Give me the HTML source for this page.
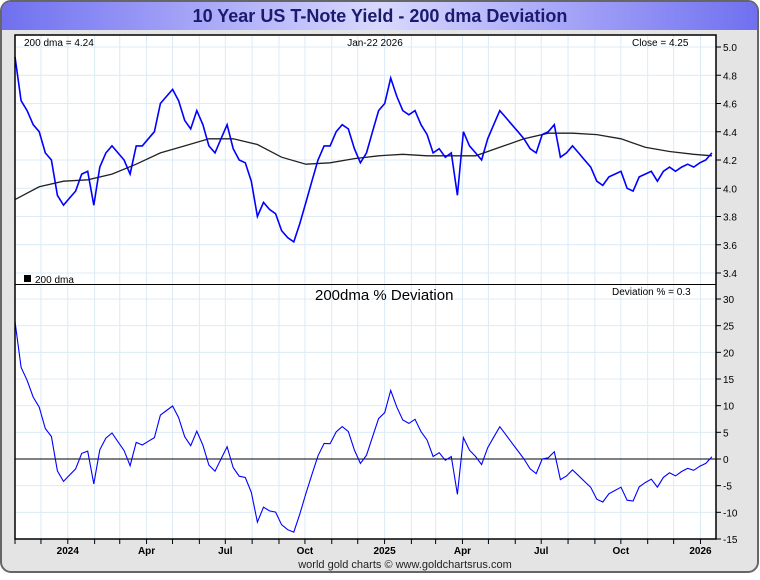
<!DOCTYPE html>
<html><head><meta charset="utf-8"><style>
body{margin:0;width:760px;height:575px;overflow:hidden;background:#fff;font-family:"Liberation Sans",sans-serif}
</style></head><body>
<svg id="c" width="760" height="575" xmlns="http://www.w3.org/2000/svg">
<defs><linearGradient id="tg" x1="0" x2="1"><stop offset="0" stop-color="#7070f0"/><stop offset="0.5" stop-color="#d8d8ff"/><stop offset="1" stop-color="#7070f0"/></linearGradient></defs>
<rect x="1" y="1" width="757" height="571" rx="10" fill="#e4e4e4" stroke="#666" stroke-width="2"/>
<path d="M2,30 L2,11 Q2,2 11,2 L748,2 Q757,2 757,11 L757,30 Z" fill="url(#tg)"/>
<text x="380" y="22" text-anchor="middle" font-size="18" font-weight="bold" fill="#1a1a6e">10 Year US T-Note Yield - 200 dma Deviation</text>
<rect x="15" y="35" width="701" height="504" fill="#fff"/>
<g id="grid"></g>
<g id="marks"></g>
<rect x="15" y="35" width="701" height="504" fill="none" stroke="#000" stroke-width="1.5"/>
<line x1="15" y1="284.5" x2="716" y2="284.5" stroke="#000"/>
<text x="24" y="46" font-size="10">200 dma =   4.24</text>
<text x="375" y="46" font-size="10" text-anchor="middle">Jan-22  2026</text>
<text x="632" y="46" font-size="10">Close = 4.25</text>
<rect x="24" y="275" width="7" height="7" fill="#000"/>
<text x="35" y="283" font-size="10">200 dma</text>
<text x="315" y="300" font-size="15">200dma  %  Deviation</text>
<text x="612" y="295" font-size="10">Deviation % = 0.3</text>
<text x="405" y="568" font-size="11" text-anchor="middle" fill="#222">world gold charts © www.goldchartsrus.com</text>
<g id="axes"></g>
</svg>
<script>
const yieldVals=[4.93,4.62,4.55,4.45,4.40,4.25,4.20,3.95,3.88,3.93,3.98,4.10,4.12,3.88,4.15,4.25,4.30,4.25,4.20,4.10,4.30,4.30,4.35,4.40,4.60,4.65,4.70,4.62,4.48,4.42,4.55,4.45,4.30,4.25,4.35,4.45,4.28,4.20,4.18,4.05,3.80,3.90,3.85,3.82,3.70,3.65,3.62,3.75,3.90,4.05,4.20,4.30,4.30,4.40,4.45,4.42,4.28,4.18,4.25,4.40,4.55,4.60,4.78,4.65,4.55,4.52,4.55,4.45,4.38,4.25,4.28,4.22,4.25,3.95,4.40,4.30,4.25,4.20,4.35,4.45,4.55,4.50,4.45,4.40,4.35,4.28,4.25,4.38,4.40,4.45,4.22,4.25,4.30,4.25,4.20,4.15,4.05,4.02,4.08,4.10,4.12,4.00,3.98,4.08,4.10,4.12,4.05,4.12,4.15,4.12,4.15,4.17,4.15,4.18,4.20,4.25];
const dmaVals=[3.92,4.01,4.05,4.06,4.10,4.17,4.25,4.30,4.35,4.35,4.31,4.22,4.17,4.18,4.21,4.23,4.24,4.23,4.23,4.23,4.29,4.35,4.39,4.39,4.38,4.35,4.29,4.26,4.24,4.23];
const dmaStep=4;
const topTicks=["5.0","4.8","4.6","4.4","4.2","4.0","3.8","3.6","3.4"];
const botTicks=[30,25,20,15,10,5,0,-5,-10,-15];
const monthLabels=["","Dec","2024","Feb","Mar","Apr","May","Jun","Jul","Aug","Sep","Oct","Nov","Dec","2025","Feb","Mar","Apr","May","Jun","Jul","Aug","Sep","Oct","Nov","Dec","2026"];
const shownLabels=["2024","Apr","Jul","Oct","2025","Apr","Jul","Oct","2026"];
const NS="http://www.w3.org/2000/svg";
const X0=15,X1=716;
function xw(i){return X0+i*6.06;}
function yt(v){return 47+(5.0-v)*141.25;}
function yb(v){return 299+(30-v)*5.333;}
function xDay(d){return X0+d*0.8655;}
function mk(t,a,p){const e=document.createElementNS(NS,t);for(const k in a)e.setAttribute(k,a[k]);(p||document.getElementById('marks')).appendChild(e);return e;}
const grid=document.getElementById('grid'),axes=document.getElementById('axes');
// month boundaries (days from Nov 1 2023)
const monthStarts=[];{let d=new Date(2023,10,1);const s=d.getTime();for(let k=0;k<27;k++){monthStarts.push(Math.round((new Date(2023,10+k,1).getTime()-s)/86400000));}}
monthStarts.forEach((d,k)=>{const x=xDay(d);if(x<=X0+1||x>=X1)return;
 const g=mk('line',{x1:x,y1:35,x2:x,y2:539,stroke:'#dcebf7','stroke-width':1},grid);
 
 const t=mk('line',{x1:x,y1:539,x2:x,y2:544,stroke:'#000'},axes);
 const lab=monthLabels[k];
 if(shownLabels.includes(lab)&&(lab.length===4?true:true)){
  const tx=mk('text',{x:x,y:554,'font-size':10,'font-weight':'bold','text-anchor':'middle'},axes);tx.textContent=lab;
  }
});
mk('line',{x1:X0,y1:539,x2:X0,y2:544,stroke:'#000'},axes);
topTicks.forEach(s=>{const y=yt(parseFloat(s));
 const g=mk('line',{x1:X0,y1:y,x2:X1,y2:y,stroke:'#dcebf7'},grid);
 mk('line',{x1:X1,y1:y,x2:X1+5,y2:y,stroke:'#000'},axes);
 const t=mk('text',{x:723,y:y+4,'font-size':10},axes);t.textContent=s;
 });
botTicks.forEach(v=>{const y=yb(v);
 const g=mk('line',{x1:X0,y1:y,x2:X1,y2:y,stroke:v===0?'#000':'#dcebf7'},v===0?document.getElementById('marks'):grid);
 
 mk('line',{x1:X1,y1:y,x2:X1+5,y2:y,stroke:'#000'},axes);
 const t=mk('text',{x:723,y:y+4,'font-size':10},axes);t.textContent=String(v);
 });
function dmaAt(i){const f=i/dmaStep,k=Math.min(Math.floor(f),dmaVals.length-2),r=f-k;return dmaVals[k]*(1-r)+dmaVals[k+1]*r;}
// dma line
let pd=dmaVals.map((v,k)=>{const x=Math.min(xw(k*dmaStep),X1-4);return (k?'L':'M')+x.toFixed(1)+','+yt(v).toFixed(1);}).join(' ');
const dl=mk('path',{d:pd,fill:'none',stroke:'#222','stroke-width':1.3});

// yield
let py=yieldVals.map((v,i)=>(i?'L':'M')+xw(i).toFixed(1)+','+yt(v).toFixed(1)).join(' ');
const yl=mk('path',{d:py,fill:'none',stroke:'#0000ff','stroke-width':1.6});

// deviation
let pv=yieldVals.map((v,i)=>{const dv=(v/dmaAt(i)-1)*100;return (i?'L':'M')+xw(i).toFixed(1)+','+yb(dv).toFixed(1);}).join(' ');
const dvl=mk('path',{d:pv,fill:'none',stroke:'#0000ff','stroke-width':1.1});

</script>
</body></html>
